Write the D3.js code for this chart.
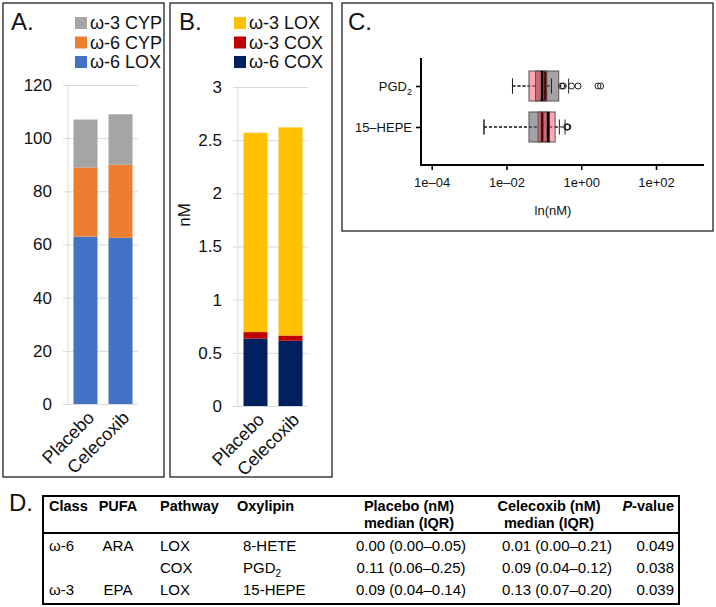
<!DOCTYPE html>
<html>
<head>
<meta charset="utf-8">
<script src="https://cdn.jsdelivr.net/npm/d3@7/dist/d3.min.js"></script>
<style>
  body { margin: 0; background: #fff; }
  svg { display: block; font-family: Arial, "Liberation Sans", sans-serif; }
</style>
</head>
<body>
<svg id="fig" width="716" height="607"></svg>
<script>
// ---------- DATA ----------
const groups = ["Placebo", "Celecoxib"];

// Panel A (stack order bottom -> top)
const seriesA = ["ω-6 LOX", "ω-6 CYP", "ω-3 CYP"];
const lox6A = [63, 62.5];
const cyp6A = [26, 27.5];
const cyp3A = [18, 19];
const ticksA = [0, 20, 40, 60, 80, 100, 120];

// Panel B (stack order bottom -> top)
const seriesB = ["ω-6 COX", "ω-3 COX", "ω-3 LOX"];
const cox6B = [0.635, 0.613];
const cox3B = [0.06, 0.05];
const lox3B = [1.875, 1.957];
const ticksB = [0, 0.5, 1, 1.5, 2, 2.5, 3];

// Panel C (box plots, nM, log axis)
const oxylipinsC = ["PGD2", "15–HEPE"];
const placeboLo = [0.0145, 0.0025];
const placeboQ1 = [0.06, 0.04];
const placeboMed = [0.11, 0.09];
const placeboQ3 = [0.25, 0.14];
const placeboHi = [0.46, 0.26];
const placeboOut = [[0.82, 2.8, 3.3], [0.41, 0.44]];
const celecoxibLo = [0.0145, 0.0025];
const celecoxibQ1 = [0.04, 0.07];
const celecoxibMed = [0.09, 0.13];
const celecoxibQ3 = [0.12, 0.20];
const celecoxibHi = [0.16, 0.37];
const celecoxibOut = [[0.30, 0.33, 0.55], [0.42]];
const ticksC = [1e-4, 1e-2, 1, 1e2];
const tickLabelsC = ["1e–04", "1e–02", "1e+00", "1e+02"];

// Panel D (table)
const tableClass = ["ω-6", "", "ω-3"];
const tablePUFA = ["ARA", "", "EPA"];
const tablePathway = ["LOX", "COX", "LOX"];
const tableOxylipin = ["8-HETE", "PGD2", "15-HEPE"];
const tablePlacebo = ["0.00 (0.00–0.05)", "0.11 (0.06–0.25)", "0.09 (0.04–0.14)"];
const tableCelecoxib = ["0.01 (0.00–0.21)", "0.09 (0.04–0.12)", "0.13 (0.07–0.20)"];
const tableP = ["0.049", "0.038", "0.039"];

// ---------- DRAW ----------
const svg = d3.select("#fig");
const FONT = 'Arial, "Liberation Sans", sans-serif';

function panelBorder(x, y, w, h) {
  svg.append("rect").attr("x", x).attr("y", y).attr("width", w).attr("height", h)
    .attr("fill", "none").attr("stroke", "#222").attr("stroke-width", 1.3);
}

function stackedPanel(opts) {
  const g = svg.append("g");
  const y = d3.scaleLinear().domain(opts.domain).range([opts.y0, opts.y1]);
  const x = d3.scaleBand().domain(groups).range([opts.x0, opts.x1])
    .paddingInner(0.314).paddingOuter(0.157);

  // gridlines + axis
  const ax = d3.axisLeft(y).tickValues(opts.ticks).tickSize(-(opts.x1 - opts.x0)).tickPadding(16)
    .tickFormat(d3.format("~g"));
  const axg = g.append("g").attr("transform", `translate(${opts.x0},0)`).call(ax);
  axg.select(".domain").attr("stroke", "#d9d9d9").attr("d", `M0,${opts.y0}V${opts.y1}`);
  axg.selectAll(".tick line").attr("stroke", "#d9d9d9").attr("x1", -5);
  axg.selectAll(".tick text").attr("font-size", 17).attr("font-family", FONT).attr("fill", "#111");

  // stack
  const rows = groups.map((gname, i) => {
    const r = { group: gname };
    opts.series.forEach((s, k) => r[s] = opts.values[k][i]);
    return r;
  });
  const stack = d3.stack().keys(opts.series)(rows);
  stack.forEach((layer, k) => {
    g.append("g").selectAll("rect").data(layer).join("rect")
      .attr("x", d => x(d.data.group))
      .attr("width", x.bandwidth())
      .attr("y", d => y(d[1]))
      .attr("height", d => y(d[0]) - y(d[1]))
      .attr("fill", opts.colors[k]);
  });

  // x labels rotated
  g.selectAll(".xl").data(groups).join("text")
    .attr("transform", d => `translate(${x(d) + x.bandwidth() / 2 + 1},${opts.y0 + 6}) rotate(-45)`)
    .attr("text-anchor", "end").attr("dy", "0.7em")
    .attr("font-size", 18).attr("font-family", FONT).attr("fill", "#111")
    .text(d => d);

  // legend (reverse order: top of stack first)
  const legItems = opts.series.map((s, k) => ({ s, c: opts.colors[k] })).reverse();
  const lg = g.append("g");
  legItems.forEach((it, i) => {
    const cy = 23 + i * 19.5;
    lg.append("rect").attr("x", opts.legX).attr("y", cy - 6).attr("width", 12).attr("height", 12).attr("fill", it.c);
    lg.append("text").attr("x", opts.legX + 15).attr("y", cy).attr("dy", "0.36em")
      .attr("font-size", 18).attr("font-family", FONT).attr("fill", "#111").text(it.s);
  });

  g.append("text").attr("x", opts.labelX).attr("y", 30).attr("font-size", 24)
    .attr("font-family", FONT).attr("fill", "#111").text(opts.label);
  return g;
}

// Panel A
panelBorder(3, 3, 161, 474);
stackedPanel({
  domain: [0, 120], y0: 404, y1: 85, x0: 68, x1: 138, ticks: ticksA,
  series: seriesA, values: [lox6A, cyp6A, cyp3A],
  colors: ["#4472c4", "#ed7d31", "#a5a5a5"],
  legX: 75, label: "A.", labelX: 11
});

// Panel B
panelBorder(170, 3, 162, 474);
stackedPanel({
  domain: [0, 3], y0: 406, y1: 87, x0: 238, x1: 308, ticks: ticksB,
  series: seriesB, values: [cox6B, cox3B, lox3B],
  colors: ["#002060", "#c00000", "#ffc000"],
  legX: 234, label: "B.", labelX: 179
});
svg.append("text").attr("transform", "translate(190,215) rotate(-90)")
  .attr("text-anchor", "middle").attr("font-size", 17).attr("font-family", FONT).attr("fill", "#111")
  .text("nM");

// Panel C
panelBorder(342, 3, 371, 228);
svg.append("text").attr("x", 348).attr("y", 30).attr("font-size", 24)
  .attr("font-family", FONT).attr("fill", "#111").text("C.");
const gc = svg.append("g");
const xc = d3.scaleLog().domain([1e-4, 1e2]).range([431.7, 656]);
const yc = d3.scalePoint().domain(oxylipinsC).range([86, 127]);

// axes
const xAx = d3.axisBottom(xc).tickValues(ticksC).tickFormat((d, i) => tickLabelsC[i]).tickSize(5).tickPadding(8);
const xg = gc.append("g").attr("transform", "translate(0,165)").call(xAx);
xg.select(".domain").remove();
xg.selectAll(".tick line").attr("stroke", "#000").attr("stroke-width", 1.6);
xg.selectAll(".tick text").attr("font-size", 13).attr("font-family", FONT).attr("fill", "#111");
gc.append("line").attr("x1", 421).attr("x2", 704).attr("y1", 165).attr("y2", 165)
  .attr("stroke", "#000").attr("stroke-width", 2);
gc.append("line").attr("x1", 421).attr("x2", 421).attr("y1", 58).attr("y2", 166)
  .attr("stroke", "#000").attr("stroke-width", 2);
const yAx = d3.axisLeft(yc).tickSize(5).tickPadding(5).tickFormat(() => "");
const yg = gc.append("g").attr("transform", "translate(421,0)").call(yAx);
yg.select(".domain").remove();
yg.selectAll(".tick line").attr("stroke", "#000").attr("stroke-width", 1.6);
oxylipinsC.forEach(name => {
  const t = gc.append("text").attr("x", 412).attr("y", yc(name)).attr("dy", "0.36em")
    .attr("text-anchor", "end").attr("font-size", 13).attr("font-family", FONT).attr("fill", "#111");
  if (name === "PGD2") {
    t.append("tspan").text("PGD");
    t.append("tspan").attr("font-size", 9).attr("dy", 4).text("2");
  } else t.text(name);
});
gc.append("text").attr("x", 553).attr("y", 214.5).attr("text-anchor", "middle")
  .attr("font-size", 13).attr("font-family", FONT).attr("fill", "#111").text("ln(nM)");

function boxes(lo, q1, med, q3, hi, outs, fill, stroke) {
  oxylipinsC.forEach((name, i) => {
    const cy = yc(name), hh = 15, cap = 7.5;
    const b = gc.append("g");
    b.append("line").attr("x1", xc(lo[i])).attr("x2", xc(q1[i])).attr("y1", cy).attr("y2", cy)
      .attr("stroke", "#111").attr("stroke-dasharray", "3,2").attr("stroke-width", 1);
    b.append("line").attr("x1", xc(q3[i])).attr("x2", xc(hi[i])).attr("y1", cy).attr("y2", cy)
      .attr("stroke", "#111").attr("stroke-dasharray", "3,2").attr("stroke-width", 1);
    [lo[i], hi[i]].forEach(v => b.append("line").attr("x1", xc(v)).attr("x2", xc(v))
      .attr("y1", cy - cap).attr("y2", cy + cap).attr("stroke", "#222").attr("stroke-width", 1));
    b.append("rect").attr("x", xc(q1[i])).attr("y", cy - hh).attr("width", xc(q3[i]) - xc(q1[i]))
      .attr("height", 2 * hh).attr("fill", fill).attr("stroke", stroke).attr("stroke-width", 1);
    b.append("line").attr("x1", xc(med[i])).attr("x2", xc(med[i])).attr("y1", cy - hh).attr("y2", cy + hh)
      .attr("stroke", "#000").attr("stroke-width", 2.6);
    b.selectAll("circle").data(outs[i]).join("circle")
      .attr("cx", d => xc(d)).attr("cy", cy).attr("r", 3)
      .attr("fill", "none").attr("stroke", "#222").attr("stroke-width", 1);
  });
}
boxes(placeboLo, placeboQ1, placeboMed, placeboQ3, placeboHi, placeboOut, "#a3a3a3", "#555");
boxes(celecoxibLo, celecoxibQ1, celecoxibMed, celecoxibQ3, celecoxibHi, celecoxibOut, "rgba(255,0,20,0.34)", "#555");

// Panel D (table)
svg.append("text").attr("x", 9).attr("y", 511).attr("font-size", 24)
  .attr("font-family", FONT).attr("fill", "#111").text("D.");
const gt = svg.append("g").attr("font-family", FONT).attr("fill", "#000");
gt.append("rect").attr("x", 43).attr("y", 496).attr("width", 636).attr("height", 108)
  .attr("fill", "none").attr("stroke", "#000").attr("stroke-width", 2);
gt.append("line").attr("x1", 43).attr("x2", 679).attr("y1", 533).attr("y2", 533)
  .attr("stroke", "#000").attr("stroke-width", 2.2);

const hdr = (x, y, txt, anchor) => gt.append("text").attr("x", x).attr("y", y)
  .attr("text-anchor", anchor || "start").attr("font-size", 14.5).attr("font-weight", "bold").text(txt);
hdr(49, 511, "Class");
hdr(118, 511, "PUFA", "middle");
hdr(160, 511, "Pathway");
hdr(237, 511, "Oxylipin");
hdr(409, 511, "Placebo (nM)", "middle");
hdr(409, 528, "median (IQR)", "middle");
hdr(549, 511, "Celecoxib (nM)", "middle");
hdr(549, 528, "median (IQR)", "middle");
const pv = gt.append("text").attr("x", 674).attr("y", 511).attr("text-anchor", "end")
  .attr("font-size", 14.5).attr("font-weight", "bold");
pv.append("tspan").attr("font-style", "italic").text("P");
pv.append("tspan").text("-value");

const rowY = [551, 572.5, 594.5];
const cell = (x, y, txt, anchor) => gt.append("text").attr("x", x).attr("y", y)
  .attr("text-anchor", anchor || "start").attr("font-size", 15);
rowY.forEach((y, i) => {
  cell(49, y).text(tableClass[i]);
  cell(118, y, null, "middle").text(tablePUFA[i]);
  cell(160, y).text(tablePathway[i]);
  const ox = cell(243, y);
  if (tableOxylipin[i] === "PGD2") {
    ox.append("tspan").text("PGD");
    ox.append("tspan").attr("font-size", 10).attr("dy", 4).text("2");
  } else ox.text(tableOxylipin[i]);
  cell(411, y, null, "middle").text(tablePlacebo[i]);
  cell(557, y, null, "middle").text(tableCelecoxib[i]);
  cell(674, y, null, "end").text(tableP[i]);
});
</script>
</body>
</html>
